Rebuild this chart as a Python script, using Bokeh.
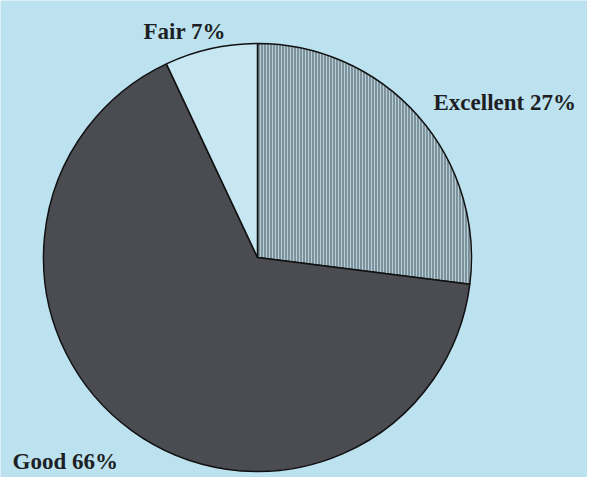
import math
from bokeh.plotting import figure
from bokeh.models import ColumnDataSource, Label, Range1d
from bokeh.embed import file_html
from bokeh.resources import INLINE

# Data
categories = ["Excellent", "Good", "Fair"]
percents = [27, 66, 7]
labels = ["Excellent 27%", "Good 66%", "Fair 7%"]

# Style
colors = ["#7d929b", "#4a4c52", "#c6e7f2"]
bg = "#bce2ef"

W, H = 587, 477
p = figure(width=W, height=H, output_backend="svg", toolbar_location=None,
           x_range=Range1d(0, W), y_range=Range1d(0, H), min_border=0)
p.axis.visible = False
p.grid.visible = False
p.outline_line_color = None
p.background_fill_color = bg
p.border_fill_color = bg

total = sum(percents)
starts, ends = [], []
cum = 0.0
for v in percents:
    a0 = math.pi / 2 - 2 * math.pi * (cum + v) / total
    a1 = math.pi / 2 - 2 * math.pi * cum / total
    starts.append(a0)
    ends.append(a1)
    cum += v

src = ColumnDataSource(dict(cat=categories, start=starts, end=ends, color=colors,
                            hatch=["vertical_line", " ", " "]))
cx, cy, r = 257, 220, 214
p.wedge(x=cx, y=cy, radius=r, start_angle="start", end_angle="end",
        fill_color="color", line_color="#111111", line_width=1.5, source=src,
        hatch_pattern="hatch", hatch_color="#c4dde6", hatch_scale=3, hatch_weight=1,
        hatch_alpha=0.8)

# label layout (screen px)
label_pos = {"Fair 7%": (143, 446), "Excellent 27%": (433, 375), "Good 66%": (12, 16)}
for t in labels:
    x, y = label_pos[t]
    p.add_layout(Label(x=x, y=y, x_units="screen", y_units="screen", text=t,
                       text_font="Liberation Serif", text_font_style="bold",
                       text_font_size="23px", text_color="#1d1f24",
                       text_baseline="alphabetic"))

open("out.html", "w").write(file_html(p, INLINE))
